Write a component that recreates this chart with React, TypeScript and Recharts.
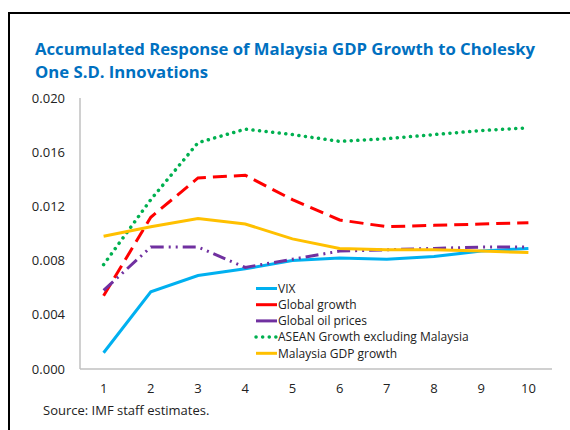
import React from "react";
import { LineChart, Line, XAxis, YAxis } from "recharts";

const periods = [1, 2, 3, 4, 5, 6, 7, 8, 9, 10];
const vix = [0.0012, 0.0057, 0.0069, 0.0074, 0.0080, 0.0082, 0.0081, 0.0083, 0.0087, 0.0089];
const globalGrowth = [0.0054, 0.0112, 0.0141, 0.0143, 0.0125, 0.0110, 0.0105, 0.0106, 0.0107, 0.0108];
const oilPrices = [0.0058, 0.0090, 0.0090, 0.0075, 0.0081, 0.0087, 0.0088, 0.0089, 0.0090, 0.0090];
const asean = [0.0077, 0.0125, 0.0167, 0.0177, 0.0173, 0.0168, 0.0170, 0.0173, 0.0176, 0.0178];
const malaysiaGdp = [0.0098, 0.0105, 0.0111, 0.0107, 0.0096, 0.0089, 0.0088, 0.0088, 0.0087, 0.0086];
const yTicks = [0, 0.004, 0.008, 0.012, 0.016, 0.02];

const data = periods.map((p, i) => ({
  period: p,
  vix: vix[i],
  globalGrowth: globalGrowth[i],
  oilPrices: oilPrices[i],
  asean: asean[i],
  malaysiaGdp: malaysiaGdp[i],
}));

const FONT = "'Open Sans', 'Noto Sans', sans-serif";

const series = [
  { key: "vix", name: "VIX", color: "#00b0f0", dash: undefined as string | undefined, cap: "butt" },
  { key: "globalGrowth", name: "Global growth", color: "#ff0000", dash: "14 7", cap: "butt" },
  { key: "oilPrices", name: "Global oil prices", color: "#7030a0", dash: "13 5 2 5 2 5", cap: "butt" },
  { key: "asean", name: "ASEAN Growth excluding Malaysia", color: "#00b050", dash: "0.1 6.5", cap: "round" },
  { key: "malaysiaGdp", name: "Malaysia GDP growth", color: "#ffc000", dash: undefined as string | undefined, cap: "butt" },
];

function LegendBox() {
  return (
    <svg
      width={260}
      height={90}
      style={{ position: "absolute", left: 250, top: 279, overflow: "visible" }}
    >
      {series.map((s, i) => {
        const y = 9.5 + i * 16.2;
        return (
          <g key={s.key}>
            <line
              x1={6}
              x2={27}
              y1={y}
              y2={y}
              stroke={s.color}
              strokeWidth={s.key === "asean" ? 3.5 : 3}
              strokeDasharray={s.key === "asean" ? "0.1 6.5" : undefined}
              strokeLinecap={s.key === "asean" ? "round" : "butt"}
            />
            <text
              x={28}
              y={y}
              dy="0.35em"
              fontSize={12}
              fontFamily={FONT}
              fill="#222"
            >
              {s.name}
            </text>
          </g>
        );
      })}
    </svg>
  );
}

export default function App() {
  return (
    <div
      style={{
        position: "fixed",
        left: 0,
        top: 0,
        width: 570,
        height: 430,
        background: "#fff",
        fontFamily: FONT,
        overflow: "hidden",
      }}
    >
      <div
        style={{
          position: "absolute",
          left: 8,
          top: 12,
          right: -10,
          bottom: -10,
          borderLeft: "2px solid #000",
          borderTop: "2px solid #000",
        }}
      />
      <div
        style={{
          position: "absolute",
          left: 35,
          top: 38,
          fontSize: 16.7,
          fontWeight: 700,
          color: "#0070c0",
          lineHeight: "22.7px",
          whiteSpace: "nowrap",
        }}
      >
        Accumulated Response of Malaysia GDP Growth to Cholesky
        <br />
        One S.D. Innovations
      </div>
      <div style={{ position: "absolute", left: 0, top: 0 }}>
        <LineChart
          width={570}
          height={430}
          data={data}
          margin={{ top: 98, right: 18, bottom: 31, left: 0 }}
        >
          <XAxis
            dataKey="period"
            tickLine={false}
            axisLine={{ stroke: "#c0c0c0", strokeWidth: 1.5 }}
            tick={{ fontSize: 13, fill: "#222", fontFamily: FONT }}
            tickMargin={9}
            height={30}
            padding={{ left: 23.6, right: 23.6 }}
          />
          <XAxis
            xAxisId="top"
            dataKey="period"
            orientation="top"
            tick={false}
            tickLine={false}
            axisLine={{ stroke: "#c0c0c0", strokeWidth: 1.5 }}
            height={0}
          />
          <YAxis
            domain={[0, 0.02]}
            ticks={yTicks}
            tickFormatter={(v: number) => v.toFixed(3)}
            tickLine={false}
            axisLine={{ stroke: "#c0c0c0", strokeWidth: 1.5 }}
            tick={{ fontSize: 13, fill: "#222", fontFamily: FONT }}
            tickMargin={9}
            width={80}
            interval={0}
          />
          <YAxis
            yAxisId="right"
            orientation="right"
            domain={[0, 0.02]}
            tick={false}
            tickLine={false}
            axisLine={{ stroke: "#c0c0c0", strokeWidth: 1.5 }}
            width={0}
          />
          {series.map((s) => (
            <Line
              key={s.key}
              type="linear"
              dataKey={s.key}
              name={s.name}
              stroke={s.color}
              strokeWidth={s.key === "asean" ? 3.5 : 3}
              strokeDasharray={s.dash}
              strokeLinecap={s.cap as any}
              dot={false}
              activeDot={false}
              isAnimationActive={false}
            />
          ))}
        </LineChart>
      </div>
      <LegendBox />
      <div
        style={{
          position: "absolute",
          left: 43,
          top: 401,
          fontSize: 13,
          color: "#222",
          whiteSpace: "nowrap",
        }}
      >
        Source: IMF staff estimates.
      </div>
    </div>
  );
}
